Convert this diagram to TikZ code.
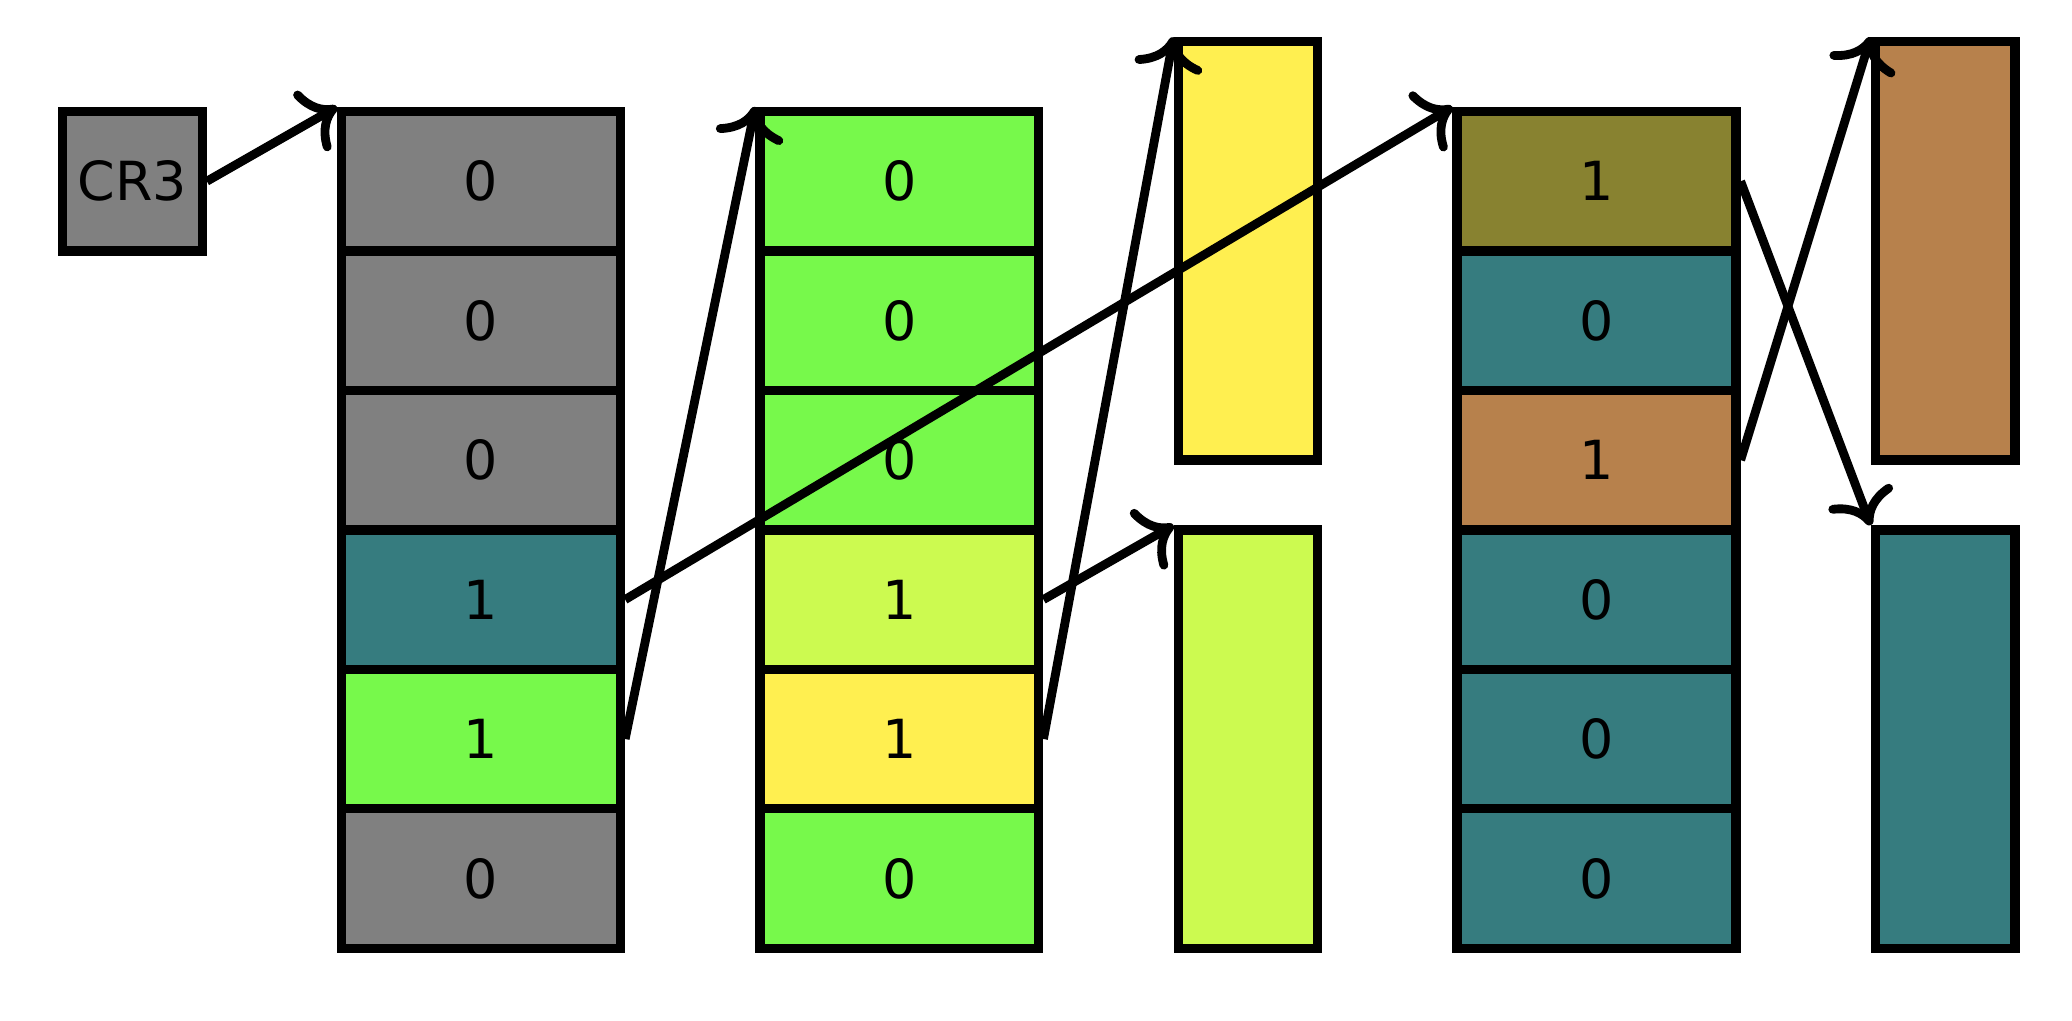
\documentclass[tikz,border=0pt]{standalone}
\usepackage{fontspec}
\setmainfont{DejaVu Sans}
\usetikzlibrary{arrows.meta}
\definecolor{pgrey}{HTML}{808080}
\definecolor{pteal}{HTML}{367C7F}
\definecolor{pgreen}{HTML}{77F94B}
\definecolor{plime}{HTML}{CCFA50}
\definecolor{pyellow}{HTML}{FFEF50}
\definecolor{polive}{HTML}{888230}
\definecolor{pbrown}{HTML}{B7814C}
\begin{document}
\begin{tikzpicture}[font=\fontsize{11}{13}\selectfont,>={To[scale=1.2]},
  cell/.style={draw,line width=1.9pt,minimum width=2cm,minimum height=1cm,inner sep=0pt},
  page/.style={draw,line width=1.9pt,minimum width=1cm,minimum height=3cm,inner sep=0pt},
  link/.style={->,line width=1.8pt}]
  \useasboundingbox (0,0) rectangle (14.86,-7.317);
  % register
  \node[draw,line width=1.9pt,fill=pgrey,minimum size=1cm,inner sep=0pt] (cr3) at (0.95,-1.3) {CR3};
  % level 4
  \node[cell,fill=pgrey] (a1) at (3.45,-1.3) {0};
  \node[cell,fill=pgrey] (a2) at (3.45,-2.3) {0};
  \node[cell,fill=pgrey] (a3) at (3.45,-3.3) {0};
  \node[cell,fill=pteal] (a4) at (3.45,-4.3) {1};
  \node[cell,fill=pgreen] (a5) at (3.45,-5.3) {1};
  \node[cell,fill=pgrey] (a6) at (3.45,-6.3) {0};
  % level 3
  \node[cell,fill=pgreen] (b1) at (6.45,-1.3) {0};
  \node[cell,fill=pgreen] (b2) at (6.45,-2.3) {0};
  \node[cell,fill=pgreen] (b3) at (6.45,-3.3) {0};
  \node[cell,fill=plime] (b4) at (6.45,-4.3) {1};
  \node[cell,fill=pyellow] (b5) at (6.45,-5.3) {1};
  \node[cell,fill=pgreen] (b6) at (6.45,-6.3) {0};
  % pages of level 3
  \node[page,fill=pyellow] (pyel) at (8.95,-1.8) {};
  \node[page,fill=plime] (plim) at (8.95,-5.3) {};
  % level 2
  \node[cell,fill=polive] (c1) at (11.45,-1.3) {1};
  \node[cell,fill=pteal] (c2) at (11.45,-2.3) {0};
  \node[cell,fill=pbrown] (c3) at (11.45,-3.3) {1};
  \node[cell,fill=pteal] (c4) at (11.45,-4.3) {0};
  \node[cell,fill=pteal] (c5) at (11.45,-5.3) {0};
  \node[cell,fill=pteal] (c6) at (11.45,-6.3) {0};
  % pages of level 2
  \node[page,fill=pbrown] (pbro) at (13.95,-1.8) {};
  \node[page,fill=pteal] (ptea) at (13.95,-5.3) {};
  % links
  \draw[link] (cr3.east) -- (a1.north west);
  \draw[link] (a4.east) -- (c1.north west);
  \draw[link] (a5.east) -- (b1.north west);
  \draw[link] (b4.east) -- (plim.north west);
  \draw[link] (b5.east) -- (pyel.north west);
  \draw[link] (c1.east) -- (ptea.north west);
  \draw[link] (c3.east) -- (pbro.north west);
\end{tikzpicture}
\end{document}
